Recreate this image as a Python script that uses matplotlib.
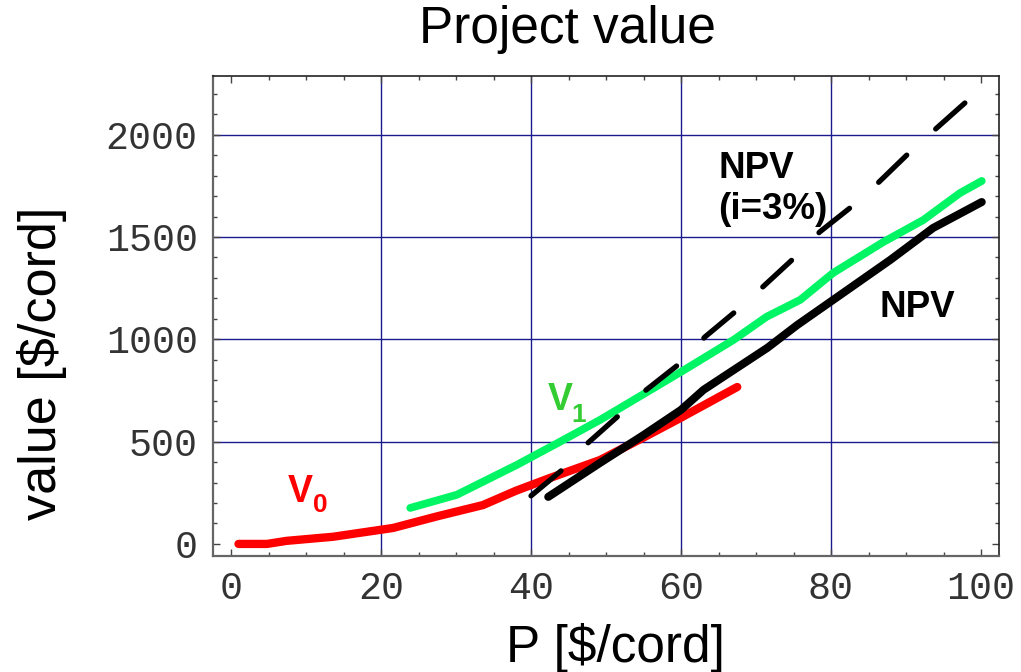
import matplotlib.pyplot as plt
import numpy as np
from matplotlib.ticker import MultipleLocator

# value of the unharvested stand, V0
p_v0 = [1, 4.8, 7.4, 13.6, 21.6, 27.5, 33.6, 38, 42.5, 49.2, 55, 59.9, 67.5]
v_v0 = [0, 0, 15, 35, 78, 135, 190, 260, 322, 410, 520, 615, 767]

# value after first option, V1
p_v1 = [23.9, 30.1, 38.1, 43.9, 49.2, 55.5, 60, 67, 71.4, 75.9, 80.3, 87, 92.3, 97.2, 100.1]
v_v1 = [176, 240, 386, 500, 606, 743, 841, 997, 1110, 1193, 1325, 1476, 1583, 1715, 1774]

# NPV
p_npv = [42.3, 49.2, 55, 60, 63, 71.5, 75.5, 80.3, 87.9, 93.6, 100.1]
v_npv = [230, 396, 532, 655, 753, 958, 1070, 1193, 1388, 1544, 1671]

# NPV with i = 3%
p_npv3 = [40, 44, 47.6, 51.5, 55.2, 59.6, 63.2, 67.2, 70.9, 74.8, 78.5, 82.7, 86.4, 90.4, 94.1, 98]
v_npv3 = [235, 357, 494, 621, 748, 875, 1012, 1134, 1256, 1388, 1525, 1647, 1769, 1911, 2033, 2160]

x_grid = [20, 40, 60, 80]
y_grid = [500, 1000, 1500, 2000]

fig = plt.figure(figsize=(10.21, 6.72), dpi=100)
ax = fig.add_axes([213 / 1021, 116 / 672, 786 / 1021, 480 / 672])

for gx in x_grid:
    ax.axvline(gx, color='#1a1a8c', lw=1.0, zorder=1)
for gy in y_grid:
    ax.axhline(gy, color='#1a1a8c', lw=1.0, zorder=1)

ax.plot(p_v0, v_v0, color='#ff0000', lw=6, solid_capstyle='round', solid_joinstyle='round', zorder=3)
ax.plot(p_v1, v_v1, color='#00f564', lw=5.6, solid_capstyle='round', solid_joinstyle='round', zorder=3)
ax.plot(p_npv, v_npv, color='black', lw=5.8, solid_capstyle='round', solid_joinstyle='round', zorder=4)
ax.plot(p_npv3, v_npv3, color='black', lw=3.8, dashes=(7.4, 7.4), dash_capstyle='round', zorder=4)

ax.set_xlim(-2.4, 102.4)
ax.set_ylim(-59, 2287)
ax.xaxis.set_major_locator(MultipleLocator(20))
ax.xaxis.set_minor_locator(MultipleLocator(5))
ax.yaxis.set_major_locator(MultipleLocator(500))
ax.yaxis.set_minor_locator(MultipleLocator(100))
ax.tick_params(which='both', direction='in', top=True, right=True, color='#444444', width=1.0)
ax.tick_params(which='major', length=5)
ax.tick_params(which='minor', length=3)
ax.tick_params(axis='x', which='major', pad=11)
ax.tick_params(axis='y', which='major', pad=11)
for lab in ax.get_xticklabels() + ax.get_yticklabels():
    lab.set_fontfamily('Liberation Mono')
    lab.set_fontsize(27.5)
    lab.set_color('#333333')
for s in ['left', 'bottom']:
    ax.spines[s].set_color('#666666')
    ax.spines[s].set_linewidth(1.6)
for s in ['top', 'right']:
    ax.spines[s].set_color('#222222')
    ax.spines[s].set_linewidth(1.2)

sans = 'Liberation Sans'
fig.text(567 / 1021, 1 - 43 / 672, 'Project value', ha='center', va='baseline', fontsize=37, family=sans)
fig.text(615 / 1021, 1 - 662 / 672, 'P [$/cord]', ha='center', va='baseline', fontsize=37, family=sans)
fig.text(42 / 1021, 1 - 363 / 672, 'value [$/cord]', ha='center', va='center', rotation=90, fontsize=37.5, family=sans)

ax.text(7.6, 205, 'V', color='#ff0000', fontsize=27, fontweight='bold', family=sans, va='baseline')
ax.text(10.9, 156, '0', color='#ff0000', fontsize=19, fontweight='bold', family=sans, va='baseline')
ax.text(42.3, 655, 'V', color='#33cc33', fontsize=27, fontweight='bold', family=sans, va='baseline')
ax.text(45.4, 596, '1', color='#33cc33', fontsize=19, fontweight='bold', family=sans, va='baseline')
ax.text(86.5, 1110, 'NPV', color='black', fontsize=26.5, fontweight='bold', family=sans, va='baseline')
ax.text(65.0, 1790, 'NPV', color='black', fontsize=26.5, fontweight='bold', family=sans, va='baseline')
ax.text(65.0, 1590, '(i=3%)', color='black', fontsize=26.5, fontweight='bold', family=sans, va='baseline')

fig.savefig('out.png', dpi=100)
